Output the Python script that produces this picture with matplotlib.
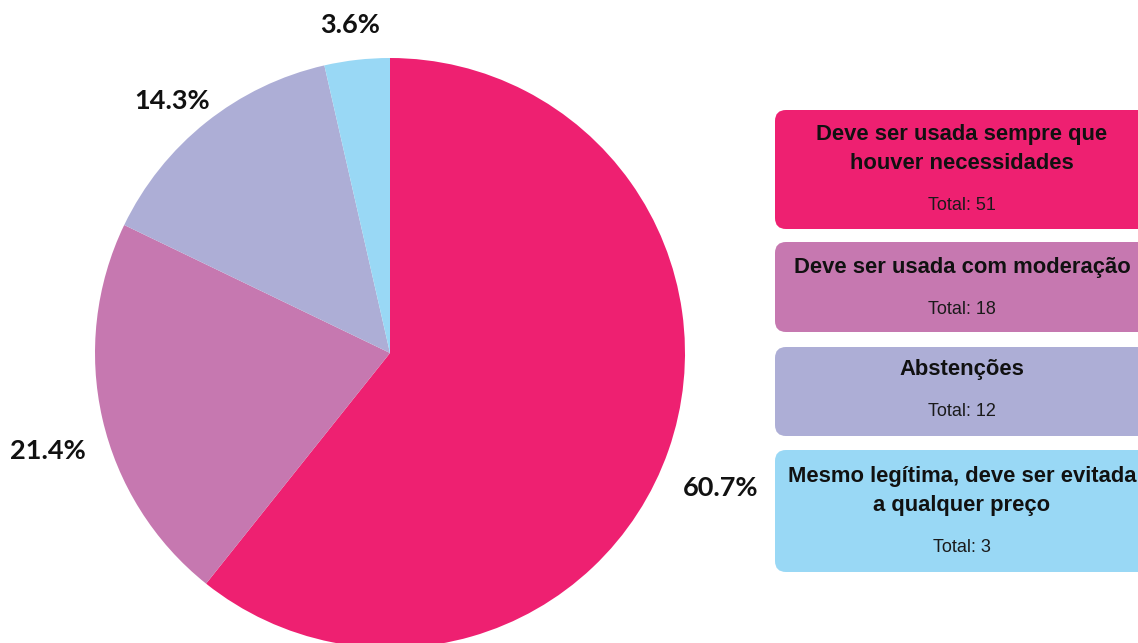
import matplotlib.pyplot as plt
from matplotlib.patches import FancyBboxPatch
import numpy as np

# respostas por opção
categorias = ['Deve ser usada sempre que\nhouver necessidades',
              'Deve ser usada com moderação',
              'Abstenções',
              'Mesmo legítima, deve ser evitada\na qualquer preço']
totais = [51, 18, 12, 3]
cores = ['#EE2071', '#C678B0', '#ADAED6', '#99D8F5']

W, H = 1138, 643
fig = plt.figure(figsize=(W / 100, H / 100), dpi=100)
ax = fig.add_axes([0, 0, 1, 1])

# pizza em coordenadas de pixel (y para cima)
cx, cy, r = 390, H - 353, 295
wedges, _ = ax.pie(totais, colors=cores, startangle=90, counterclock=False,
                   center=(cx, cy), radius=r, frame=False,
                   wedgeprops=dict(linewidth=0))

# rótulos percentuais fora das fatias
fracs = np.array(totais) / sum(totais)
dist = [1.21, 1.205, 1.13, 1.12]
desvio = [-3.0, 3.1, 2.2, 0.5]   # graus
for w, f, d, da in zip(wedges, fracs, dist, desvio):
    ang = np.deg2rad((w.theta1 + w.theta2) / 2 + da)
    ax.text(cx + d * r * np.cos(ang), cy + d * r * np.sin(ang),
            f'{f * 100:.1f}%', ha='center', va='center',
            fontsize=19.5, fontweight='bold', family='Lato', color='#111111')

# caixas da legenda
x0, largura = 775, 374
caixas = [(110, 229), (242, 332), (347, 436), (450, 572)]
pos_titulo = [149, 267, 370, 491]
pos_total = [206, 309, 411, 548]
for cat, tot, cor, (top, bot), yt, yn in zip(categorias, totais, cores, caixas,
                                              pos_titulo, pos_total):
    ax.add_patch(FancyBboxPatch((x0, H - bot), largura, bot - top,
                                boxstyle='round,pad=0,rounding_size=11',
                                facecolor=cor, edgecolor='none'))
    xc = x0 + largura / 2
    ax.text(xc, H - yt, cat, ha='center', va='center', fontsize=15.8,
            fontweight='bold', family='Liberation Sans', color='#111111',
            linespacing=1.55)
    ax.text(xc, H - yn, f'Total: {tot}', ha='center', va='center',
            fontsize=13, family='Liberation Sans', color='#1a1a1a')

ax.set_xlim(0, W)
ax.set_ylim(0, H)
ax.set_aspect('auto')
ax.axis('off')

fig.savefig('out.png', dpi=100)
